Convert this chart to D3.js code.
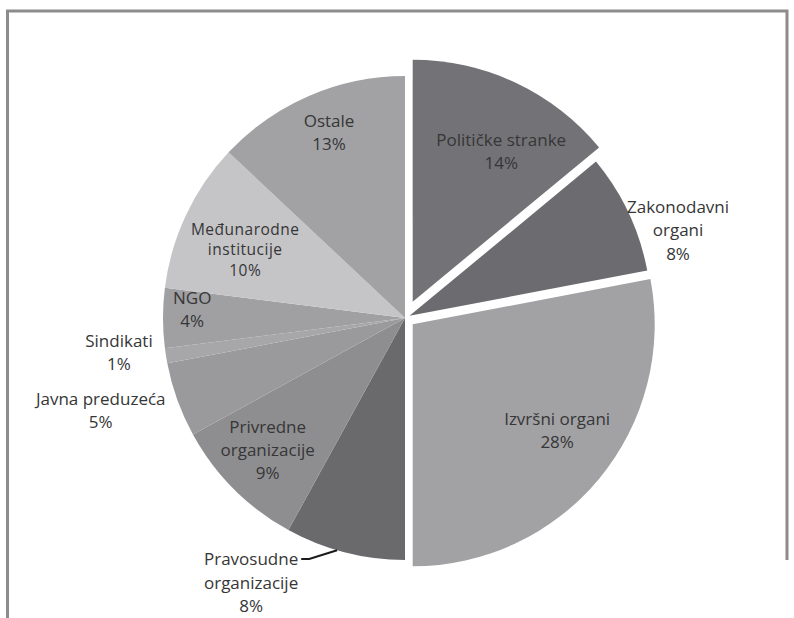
<!DOCTYPE html>
<html>
<head>
<meta charset="utf-8">
<script src="https://cdn.jsdelivr.net/npm/d3@7/dist/d3.min.js"></script>
<style>
  html, body { margin: 0; padding: 0; background: #ffffff; }
  svg { display: block; }
  text { font-family: "Open Sans", "Noto Sans", sans-serif; fill: #363636; }
</style>
</head>
<body>
<svg id="chart" width="794" height="618"></svg>
<script>
// Share of each actor, in percent, clockwise from 12 o'clock
const categories = [
  "Političke stranke", "Zakonodavni organi", "Izvršni organi",
  "Pravosudne organizacije", "Privredne organizacije", "Javna preduzeća",
  "Sindikati", "NGO", "Međunarodne institucije", "Ostale"
];
const shares = [14, 8, 28, 8, 9, 5, 1, 4, 10, 13];
// Label text split into lines (percentage is added as the final line)
const labelLines = [
  ["Političke stranke"], ["Zakonodavni", "organi"], ["Izvršni organi"],
  ["Pravosudne", "organizacije"], ["Privredne", "organizacije"], ["Javna preduzeća"],
  ["Sindikati"], ["NGO"], ["Međunarodne", "institucije"], ["Ostale"]
];

// ---- styling and layout ----
const fills = ["#737377", "#6c6c70", "#a2a2a5", "#6a6a6d", "#8e8e91",
               "#9a9a9d", "#a7a7aa", "#a0a0a3", "#c5c5c7", "#a2a2a5"];
const explode = [18, 5, 10, 0, 0, 0, 0, 0, 0, 0];          // px pulled out along mid-angle
const labelNudge = [5.2, 7.4, -3.4, 15.8, 1.3, 2.9, 2.3, 2.3, -1.9, 1.2]; // deg from mid-angle
const labelRadius = [175, 282, 179, 306, 190, 318, 288, 213, 174, 201];
const lineGap = [22.5, 23.5, 22.5, 23.5, 23, 23, 23, 23, 20.5, 23];

const W = 794, H = 618;
const cx = 405, cy = 318, R = 242;

const svg = d3.select("#chart");

// frame
svg.append("path")
  .attr("d", `M7.5,${H} L7.5,11 L787,11 L787,560`)
  .attr("fill", "none")
  .attr("stroke", "#8c8c8c")
  .attr("stroke-width", 3);

const data = categories.map((c, i) => ({ name: c, value: shares[i], i }));
const pie = d3.pie().sort(null).value(d => d.value).startAngle(0).endAngle(2 * Math.PI);
const arcs = pie(data);
const arc = d3.arc().innerRadius(0).outerRadius(R);

const g = svg.append("g").attr("transform", `translate(${cx},${cy})`);

const polar = (ang, r) => [Math.sin(ang) * r, -Math.cos(ang) * r];

arcs.forEach(a => {
  const i = a.data.i;
  const mid = (a.startAngle + a.endAngle) / 2;
  const [ox, oy] = polar(mid, explode[i]);
  a.ox = ox; a.oy = oy; a.mid = mid;
  g.append("path")
    .attr("d", arc(a))
    .attr("transform", `translate(${ox},${oy})`)
    .attr("fill", fills[i]);
});

const toRad = d => d * Math.PI / 180;
arcs.forEach(a => {
  const i = a.data.i;
  const ang = a.mid + toRad(labelNudge[i]);
  const [lx, ly] = polar(ang, labelRadius[i]);
  const x = a.ox + lx, y = a.oy + ly;
  const lines = labelLines[i].concat([a.data.value + "%"]);
  const n = lines.length;
  const t = g.append("text")
    .attr("text-anchor", "middle")
    .style("font-size", i === 8 ? "15.5px" : "17px")
    .style("font-weight", i === 8 ? 500 : 400)
    .style("letter-spacing", i === 8 ? "0.5px" : null);
  lines.forEach((s, k) => {
    t.append("tspan")
      .attr("x", x)
      .attr("y", y + (k - (n - 1) / 2) * lineGap[i])
      .attr("dominant-baseline", "central")
      .text(s);
  });
  if (i === 3) {
    // leader line from the first label line to the slice edge
    const first = t.select("tspan").node();
    const bb = first.getBBox();
    const ly0 = y + (0 - (n - 1) / 2) * lineGap[i];
    const [ex, ey] = polar(a.mid + toRad(1.9), R);
    g.append("path")
      .attr("d", `M${bb.x + bb.width + 3},${ly0} L${bb.x + bb.width + 11},${ly0} L${ex},${ey}`)
      .attr("fill", "none")
      .attr("stroke", "#1a1a1a")
      .attr("stroke-width", 2);
  }
});
</script>
</body>
</html>
